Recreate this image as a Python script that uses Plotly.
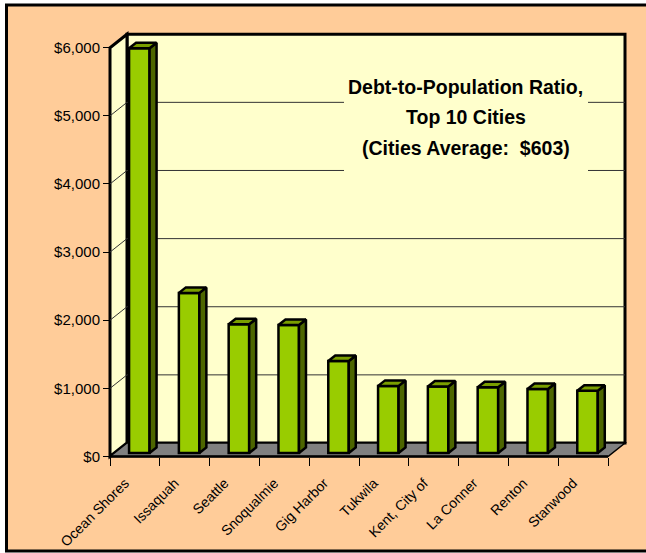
import plotly.graph_objects as go

# ---------------- data ----------------
cities = ["Ocean Shores", "Issaquah", "Seattle", "Snoqualmie", "Gig Harbor",
          "Tukwila", "Kent, City of", "La Conner", "Renton", "Stanwood"]
debt_per_capita = [5940, 2350, 1890, 1880, 1350, 985, 975, 965, 940, 915]
y_tick_values = [0, 1000, 2000, 3000, 4000, 5000, 6000]
y_tick_labels = ["$0", "$1,000", "$2,000", "$3,000", "$4,000", "$5,000", "$6,000"]
title_lines = ["Debt-to-Population Ratio,", "Top 10 Cities", "(Cities Average:\u00a0 $603)"]

# ---------------- geometry (pixels) ----------------
W, HF = 646, 553
PX_LEFT, PX_RIGHT, PY_TOP, PY_BOTTOM = 95, 640, 25, 470
AX_X0, CAT_W = 110, 49.8          # front axis start, px per category
AX_Y0, K = 456.5, 0.06813         # $0 front line, px per dollar
DEPTH_PX_X, DEPTH_PX_Y = 17, 13.5
LABEL_SHIFT = -10 / CAT_W         # rotated labels sit slightly left of centre


def ux(px):
    return -0.5 + (px - AX_X0) / CAT_W


def vy(py):
    return (AX_Y0 - py) / K


D = DEPTH_PX_X / CAT_W
HD = DEPTH_PX_Y / K
n = len(cities)
x_lo, x_hi = -0.5, n - 0.5
y_top = y_tick_values[-1]

PEACH = "#FFCC99"
WALL = "#FFFFCC"
FLOOR = "#808080"
BAR_FRONT = "#99CC00"
BAR_SIDE = "#4D6600"
BAR_TOP = "#7A9E00"
FONT = "Liberation Sans, Arial, sans-serif"

# bar geometry (in depth fractions / category units)
F_FRONT = 0.26
BAR_DEPTH_X = 7 / CAT_W
BAR_DEPTH_Y = 5.5 / K
BAR_W = 20.5 / CAT_W
bshift_x = F_FRONT * D
bbase = F_FRONT * HD

fig = go.Figure()

# front faces
fig.add_trace(go.Bar(
    x=list(range(n)), y=debt_per_capita, base=bbase,
    width=BAR_W, offset=bshift_x - BAR_W / 2,
    marker=dict(color=BAR_FRONT, line=dict(color="black", width=2.5)),
    hoverinfo="y", showlegend=False,
))

# side and top faces
sx, sy, tx, ty = [], [], [], []
for i, v in enumerate(debt_per_capita):
    xl = i + bshift_x - BAR_W / 2
    xr = xl + BAR_W
    top = bbase + v
    sx += [xr, xr + BAR_DEPTH_X, xr + BAR_DEPTH_X, xr, xr, None]
    sy += [bbase, bbase + BAR_DEPTH_Y, top + BAR_DEPTH_Y, top, bbase, None]
    tx += [xl, xr, xr + BAR_DEPTH_X, xl + BAR_DEPTH_X, xl, None]
    ty += [top, top, top + BAR_DEPTH_Y, top + BAR_DEPTH_Y, top, None]

fig.add_trace(go.Scatter(x=sx, y=sy, mode="lines", fill="toself", fillcolor=BAR_SIDE,
                         line=dict(color="black", width=2.5), hoverinfo="skip", showlegend=False))
fig.add_trace(go.Scatter(x=tx, y=ty, mode="lines", fill="toself", fillcolor=BAR_TOP,
                         line=dict(color="black", width=2.5), hoverinfo="skip", showlegend=False))

shapes = []
# outer frame
shapes.append(dict(type="rect", xref="paper", yref="paper", layer="below",
                   x0=6.5 / W, x1=1.05, y0=1 - 551 / HF, y1=1 - 5 / HF,
                   fillcolor=PEACH, line=dict(color="black", width=3)))


def poly(pts):
    return "M " + " L ".join(f"{a},{b}" for a, b in pts) + " Z"


# back wall
shapes.append(dict(type="path", xref="x", yref="y", layer="below",
                   path=poly([(x_lo + D, HD), (x_hi + D, HD), (x_hi + D, y_top + HD), (x_lo + D, y_top + HD)]),
                   fillcolor=WALL, line=dict(color="black", width=3)))
# side wall
shapes.append(dict(type="path", xref="x", yref="y", layer="below",
                   path=poly([(x_lo, 0), (x_lo, y_top), (x_lo + D, y_top + HD), (x_lo + D, HD)]),
                   fillcolor=WALL, line=dict(color="black", width=3)))
# floor
shapes.append(dict(type="path", xref="x", yref="y", layer="below",
                   path=poly([(x_lo, 0), (x_hi, 0), (x_hi + D, HD), (x_lo + D, HD)]),
                   fillcolor=FLOOR, line=dict(color="black", width=1.5)))
shapes.append(dict(type="line", xref="x", yref="y", layer="below",
                   x0=x_lo, x1=x_hi, y0=0, y1=0, line=dict(color="black", width=2.5)))
# gridlines on side + back wall
for v in y_tick_values[1:-1]:
    shapes.append(dict(type="path", xref="x", yref="y", layer="below",
                       path=f"M {x_lo},{v} L {x_lo + D},{v + HD} L {x_hi + D},{v + HD}",
                       line=dict(color="#333333", width=1)))
# title background box
shapes.append(dict(type="rect", xref="x", yref="y", layer="below",
                   x0=ux(344), x1=ux(588), y0=vy(176), y1=vy(68),
                   fillcolor=WALL, line=dict(width=0)))

annotations = []
for line, py in zip(title_lines, [87.5, 117.5, 147.5]):
    annotations.append(dict(text="<b>" + line + "</b>", xref="paper", yref="paper",
                            x=465.5 / W, y=1 - py / HF, xanchor="center", yanchor="middle",
                            showarrow=False, font=dict(family=FONT, size=19.5, color="black")))

fig.update_layout(
    width=W, height=HF,
    margin=dict(l=0, r=0, t=0, b=0, autoexpand=False),
    paper_bgcolor="white", plot_bgcolor="rgba(0,0,0,0)",
    shapes=shapes, annotations=annotations, showlegend=False,
    font=dict(family=FONT, color="black"),
    xaxis=dict(domain=[PX_LEFT / W, PX_RIGHT / W], range=[ux(PX_LEFT), ux(PX_RIGHT)],
               anchor="free", position=1 - AX_Y0 / HF, automargin=False,
               tickmode="array", tickvals=[i + LABEL_SHIFT for i in range(n)], ticktext=cities,
               tickangle=-45, ticks="outside", ticklen=12, tickcolor="rgba(0,0,0,0)",
               tickfont=dict(family=FONT, size=14, color="black"),
               minor=dict(tickmode="linear", tick0=-0.5, dtick=1, ticks="outside",
                          ticklen=8, tickwidth=1, tickcolor="black"),
               showgrid=False, zeroline=False, showline=False, fixedrange=True),
    yaxis=dict(domain=[1 - PY_BOTTOM / HF, 1 - PY_TOP / HF], range=[vy(PY_BOTTOM), vy(PY_TOP)],
               anchor="free", position=AX_X0 / W, automargin=False,
               tickmode="array", tickvals=y_tick_values, ticktext=y_tick_labels,
               ticks="outside", ticklen=7, tickwidth=1, tickcolor="black",
               tickfont=dict(family=FONT, size=15, color="black"),
               showgrid=False, zeroline=False, showline=False, fixedrange=True),
)

fig.write_html("out.html", config={"displayModeBar": False},
               post_script="document.body.style.margin='0';document.body.style.overflow='hidden';")
